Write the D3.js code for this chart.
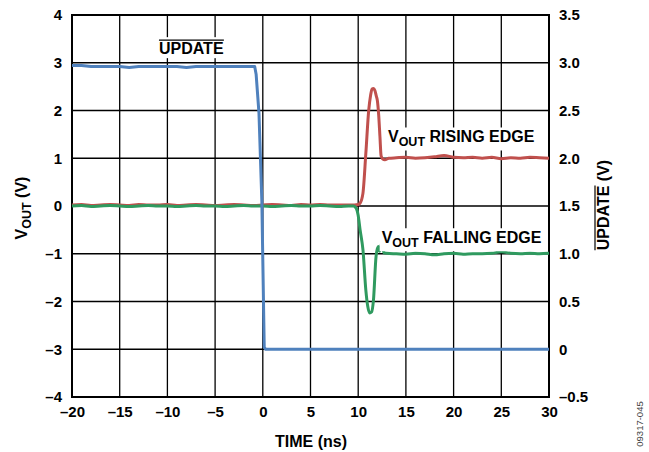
<!DOCTYPE html>
<html><head><meta charset="utf-8">
<script src="https://cdn.jsdelivr.net/npm/d3@7"></script>
<style>body{margin:0;background:#fff}svg{display:block}</style>
</head><body>
<svg id="c" width="649" height="452"></svg>
<script>
// ---- data ----
const xTicks = [-20, -15, -10, -5, 0, 5, 10, 15, 20, 25, 30];
const xTickLabels = ["–20", "–15", "–10", "–5", "0", "5", "10", "15", "20", "25", "30"];
const yLeftTicks = [-4, -3, -2, -1, 0, 1, 2, 3, 4];
const yLeftLabels = ["–4", "–3", "–2", "–1", "0", "1", "2", "3", "4"];
const yRightTicks = [-0.5, 0, 0.5, 1.0, 1.5, 2.0, 2.5, 3.0, 3.5];
const yRightLabels = ["–0.5", "0", "0.5", "1.0", "1.5", "2.0", "2.5", "3.0", "3.5"];

// UPDATE (right axis, V)
const updateTime = [-20, -19, -18, -17, -16, -15, -14, -13, -12, -11, -10, -9, -8, -7, -6, -5, -4, -3, -2, -1, -0.85, -0.7, -0.4, -0.1, 0.15, 0.3, 1, 5, 10, 15, 20, 25, 30];
const updateVal  = [2.97, 2.97, 2.96, 2.96, 2.96, 2.96, 2.95, 2.96, 2.96, 2.96, 2.96, 2.96, 2.95, 2.96, 2.96, 2.96, 2.96, 2.96, 2.96, 2.96, 2.96, 2.88, 2.47, 1.55, 0.02, 0, 0, 0, 0, 0, 0, 0, 0];

// VOUT rising edge (left axis, V)
const risingTime = [-20, -19, -18, -17, -16, -15, -14, -13, -12, -11, -10, -9, -8, -7, -6, -5, -4, -3, -2, -1, 0, 1, 2, 3, 4, 5, 6, 7, 8, 9, 9.6, 10.0, 10.2, 10.5, 10.8, 11.1, 11.3, 11.45, 11.6, 11.75, 11.9, 12.0, 12.15, 12.28, 12.4, 12.55, 12.8, 13.2, 14, 15, 16, 17, 18, 19, 20, 21, 22, 23, 24, 25, 26, 27, 28, 29, 30];
const risingVal  = [0.02, 0.03, 0.01, 0.02, 0.03, 0.02, 0.01, 0.03, 0.02, 0.02, 0.03, 0.01, 0.02, 0.03, 0.02, 0.01, 0.02, 0.03, 0.02, 0.01, 0.02, 0.03, 0.02, 0.01, 0.03, 0.02, 0.03, 0.02, 0.02, 0.02, 0.02, 0.03, 0.06, 0.27, 1.1, 2.0, 2.32, 2.45, 2.46, 2.42, 2.3, 2.22, 1.9, 1.45, 1.05, 0.99, 0.97, 1.0, 1.01, 1.02, 1.0, 1.01, 1.03, 1.06, 1.02, 1.01, 1.02, 1.0, 1.02, 0.99, 1.01, 1.0, 1.02, 1.01, 1.0];

// VOUT falling edge (left axis, V)
const fallingTime = [-20, -19, -18, -17, -16, -15, -14, -13, -12, -11, -10, -9, -8, -7, -6, -5, -4, -3, -2, -1, 0, 1, 2, 3, 4, 5, 6, 7, 8, 9, 9.5, 9.8, 10.0, 10.2, 10.5, 10.8, 11.0, 11.2, 11.4, 11.6, 11.87, 12.1, 12.25, 12.46, 12.7, 13.0, 14, 15, 16, 17, 18, 19, 20, 21, 22, 23, 24, 25, 26, 27, 28, 29, 30];
const fallingVal  = [0.0, 0.01, -0.01, 0.0, 0.01, 0.0, -0.01, 0.0, 0.01, 0.0, 0.0, -0.01, 0.0, 0.01, 0.0, 0.0, -0.01, 0.0, 0.01, 0.0, 0.0, -0.01, 0.0, 0.01, 0.0, 0.0, 0.01, 0.0, -0.01, 0.0, 0.0, -0.05, -0.2, -0.5, -0.92, -1.76, -2.1, -2.24, -2.22, -1.97, -1.06, -0.85, -0.95, -0.78, -0.98, -0.99, -1.0, -1.01, -0.99, -1.0, -1.02, -1.0, -0.99, -1.01, -1.0, -1.0, -0.99, -0.96, -0.99, -1.0, -0.99, -1.0, -0.99];

// ---- layout ----
const svg = d3.select("#c");
const L = 72, R = 549, T = 15, B = 397;
const x = d3.scaleLinear().domain([-20, 30]).range([L, R]);
const yL = d3.scaleLinear().domain([-4, 4]).range([B, T]);
const yR = d3.scaleLinear().domain([-0.5, 3.5]).range([B, T]);

const FONT = "'Liberation Sans', Arial, Helvetica, sans-serif";
const FS = 15;     // tick labels
const FT = 16;     // titles / annotations

// grid
const grid = svg.append("g").attr("stroke", "#000").attr("stroke-width", 1.3);
grid.selectAll("line.v").data(xTicks).join("line").attr("class", "v")
  .attr("x1", d => x(d)).attr("x2", d => x(d)).attr("y1", T).attr("y2", B);
grid.selectAll("line.h").data(yLeftTicks).join("line").attr("class", "h")
  .attr("x1", L).attr("x2", R).attr("y1", d => yL(d)).attr("y2", d => yL(d));
svg.append("rect").attr("x", L).attr("y", T).attr("width", R - L).attr("height", B - T)
  .attr("fill", "none").attr("stroke", "#000").attr("stroke-width", 2);

// axes (labels via d3 axes, no domain/tick lines)
const axB = svg.append("g").attr("transform", `translate(0,${B})`)
  .call(d3.axisBottom(x).tickValues(xTicks).tickFormat((d, i) => xTickLabels[i]).tickSize(0).tickPadding(9));
const axL = svg.append("g").attr("transform", `translate(${L},0)`)
  .call(d3.axisLeft(yL).tickValues(yLeftTicks).tickFormat((d, i) => yLeftLabels[i]).tickSize(0).tickPadding(10));
const axR = svg.append("g").attr("transform", `translate(${R},0)`)
  .call(d3.axisRight(yR).tickValues(yRightTicks).tickFormat((d, i) => yRightLabels[i]).tickSize(0).tickPadding(10));
[axB, axL, axR].forEach(a => {
  a.select(".domain").remove();
  a.selectAll("text").attr("font-family", FONT).attr("font-size", FS).attr("font-weight", "bold").attr("fill", "#000");
});

// lines
const lineL = d3.line().x(d => x(d[0])).y(d => yL(d[1])).curve(d3.curveMonotoneX);
const lineR = d3.line().x(d => x(d[0])).y(d => yR(d[1])).curve(d3.curveLinear);
const zip = (a, b) => a.map((t, i) => [t, b[i]]);
svg.append("path").datum(zip(risingTime, risingVal)).attr("d", lineL)
  .attr("fill", "none").attr("stroke", "#c0504d").attr("stroke-width", 3).attr("stroke-linejoin", "round");
svg.append("path").datum(zip(fallingTime, fallingVal)).attr("d", lineL)
  .attr("fill", "none").attr("stroke", "#2f9a5f").attr("stroke-width", 3).attr("stroke-linejoin", "round");
svg.append("path").datum(zip(updateTime, updateVal)).attr("d", lineR)
  .attr("fill", "none").attr("stroke", "#4f81bd").attr("stroke-width", 3).attr("stroke-linejoin", "round");

// annotation labels with white backgrounds
function label(px, py, parts, anchor, overline) {
  const g = svg.append("g");
  const bg = g.append("rect").attr("fill", "#fff");
  const t = g.append("text").attr("x", px).attr("y", py).attr("font-family", FONT)
    .attr("font-weight", "bold").attr("font-size", FT).attr("text-anchor", anchor || "start");
  parts.forEach(p => {
    const s = t.append("tspan").text(p.t);
    if (p.sub) s.attr("font-size", FT - 3.5).attr("dy", 4);
    if (p.up) s.attr("dy", -4);
  });
  const bb = t.node().getBBox();
  let top = bb.y - 1, h = bb.height + 2;
  if (overline) {
    const oy = py - 14;
    g.append("line").attr("x1", bb.x).attr("x2", bb.x + bb.width).attr("y1", oy).attr("y2", oy)
      .attr("stroke", "#000").attr("stroke-width", 1.2);
    top = oy - 3; h = bb.y + bb.height + 1 - top;
  }
  bg.attr("x", bb.x - 2).attr("y", top).attr("width", bb.width + 4).attr("height", h);
}
label(x(-7.5), yL(3.18), [{ t: "UPDATE" }], "middle", true);
label(x(13.12), yL(1.33), [{ t: "V" }, { t: "OUT", sub: true }, { t: " RISING EDGE", up: true }]);
label(x(12.46), yL(-0.78), [{ t: "V" }, { t: "OUT", sub: true }, { t: " FALLING EDGE", up: true }]);

// axis titles
svg.append("text").attr("x", 311).attr("y", 447).attr("text-anchor", "middle")
  .attr("font-family", FONT).attr("font-weight", "bold").attr("font-size", FT).text("TIME (ns)");

const lt = svg.append("text").attr("transform", "translate(27,208) rotate(-90)").attr("text-anchor", "middle")
  .attr("font-family", FONT).attr("font-weight", "bold").attr("font-size", FT);
lt.append("tspan").text("V");
lt.append("tspan").text("OUT").attr("font-size", FT - 3.5).attr("dy", 4);
lt.append("tspan").text(" (V)").attr("dy", -4);

const rg = svg.append("g").attr("transform", "translate(609,205) rotate(-90)");
const rt = rg.append("text").attr("text-anchor", "middle")
  .attr("font-family", FONT).attr("font-weight", "bold").attr("font-size", FT).text("UPDATE (V)");
const full = rt.node().getComputedTextLength();
const upLen = rt.node().getSubStringLength(0, 6);
rg.append("line").attr("x1", -full / 2).attr("x2", -full / 2 + upLen).attr("y1", -14).attr("y2", -14)
  .attr("stroke", "#000").attr("stroke-width", 1.2);

// figure id
svg.append("text").attr("transform", "translate(643,424) rotate(-90)").attr("text-anchor", "middle")
  .attr("font-family", FONT).attr("font-size", 9.5).attr("fill", "#444").text("09317-045");
</script>
</body></html>
